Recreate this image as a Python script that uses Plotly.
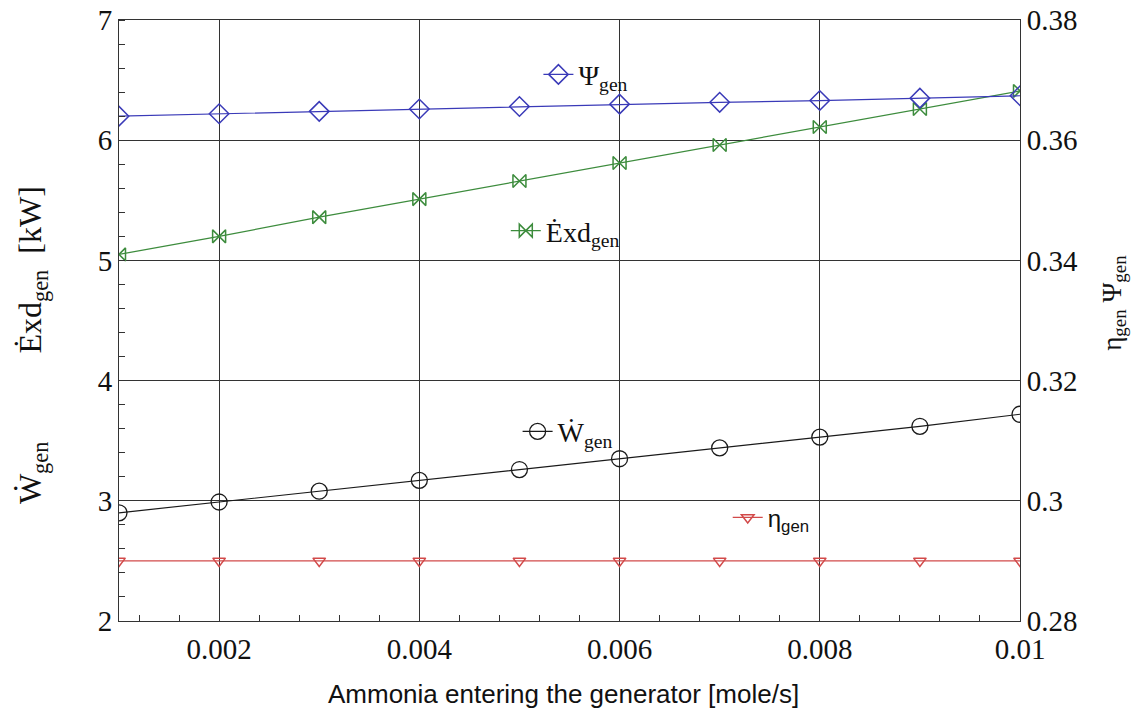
import plotly.graph_objects as go

# ---- data ----
x_vals = [0.001, 0.002, 0.003, 0.004, 0.005, 0.006, 0.007, 0.008, 0.009, 0.010]
psi_gen = [0.3640, 0.3644, 0.3648, 0.3652, 0.3656, 0.3660, 0.3663, 0.3666, 0.3670, 0.3674]
exd_gen = [5.05, 5.20, 5.36, 5.51, 5.66, 5.81, 5.96, 6.11, 6.26, 6.41]
w_gen = [2.90, 2.99, 3.08, 3.17, 3.26, 3.35, 3.44, 3.53, 3.62, 3.72]
eta_gen = [0.290, 0.290, 0.290, 0.290, 0.290, 0.290, 0.290, 0.290, 0.290, 0.290]

x_tick_vals = [0.002, 0.004, 0.006, 0.008, 0.010]
x_tick_text = ["0.002", "0.004", "0.006", "0.008", "0.01"]
y_tick_vals = [2, 3, 4, 5, 6, 7]
y_tick_text = ["2", "3", "4", "5", "6", "7"]
y2_tick_vals = [0.28, 0.30, 0.32, 0.34, 0.36, 0.38]
y2_tick_text = ["0.28", "0.3", "0.32", "0.34", "0.36", "0.38"]

SERIF = "Liberation Serif"
SANS = "Liberation Sans"

BLUE = "#3a3ab8"
GREEN = "#3d8c3d"
BLACK = "#1a1a1a"
RED = "#d24a4a"
AXIS = "#333333"
NB = "\u00a0"

fig = go.Figure()

fig.add_trace(go.Scatter(
    x=x_vals, y=psi_gen, yaxis="y2", mode="lines+markers",
    name="Ψ<sub>gen</sub>", legend="legend",
    line=dict(color=BLUE, width=1.2),
    marker=dict(symbol="diamond-open", size=15, color=BLUE, line=dict(width=1.5)),
))
fig.add_trace(go.Scatter(
    x=x_vals, y=exd_gen, yaxis="y", mode="lines+markers",
    name="E\u0307xd<sub>gen</sub>", legend="legend2",
    line=dict(color=GREEN, width=1.2),
    marker=dict(symbol="bowtie-open", size=13, color=GREEN, line=dict(width=1.5)),
))
fig.add_trace(go.Scatter(
    x=x_vals, y=w_gen, yaxis="y", mode="lines+markers",
    name="W\u0307<sub>gen</sub>", legend="legend3",
    line=dict(color=BLACK, width=1.2),
    marker=dict(symbol="circle-open", size=16, color=BLACK, line=dict(width=1.3)),
))
fig.add_trace(go.Scatter(
    x=x_vals, y=eta_gen, yaxis="y2", mode="lines+markers",
    name="η<sub>gen</sub>", legend="legend4",
    line=dict(color=RED, width=1.2),
    marker=dict(symbol="triangle-down-open", size=11, color=RED, line=dict(width=1.5)),
))

legend_common = dict(bgcolor="rgba(0,0,0,0)", borderwidth=0, xanchor="left",
                     yanchor="middle", itemclick=False, itemdoubleclick=False)

fig.update_layout(
    template="none",
    width=1134, height=700,
    margin=dict(l=111, r=122, t=12, b=87, pad=0),
    paper_bgcolor="white", plot_bgcolor="white",
    showlegend=True,
    font=dict(family=SERIF, size=29, color="#111"),
    xaxis=dict(
        range=[0.001, 0.010], tickvals=x_tick_vals, ticktext=x_tick_text,
        automargin=False, ticklabeloverflow="allow",
        showgrid=True, gridcolor=AXIS, gridwidth=1,
        showline=True, linecolor=AXIS, linewidth=1, mirror=True,
        ticks="", zeroline=False, ticklabelstandoff=2,
        tickfont=dict(family=SERIF, size=29, color="#111"),
        minor=dict(dtick=0.0004, tick0=0, ticks="inside", ticklen=6,
                   tickcolor=AXIS, showgrid=False),
    ),
    yaxis=dict(
        range=[2, 7], tickvals=y_tick_vals, ticktext=y_tick_text,
        automargin=False, ticklabeloverflow="allow",
        showgrid=True, gridcolor=AXIS, gridwidth=1,
        showline=True, linecolor=AXIS, linewidth=1,
        ticks="", zeroline=False, ticklabelstandoff=0,
        tickfont=dict(family=SERIF, size=29, color="#111"),
        minor=dict(dtick=0.2, tick0=0, ticks="inside", ticklen=6,
                   tickcolor=AXIS, showgrid=False),
    ),
    yaxis2=dict(
        range=[0.28, 0.38], tickvals=y2_tick_vals, ticktext=y2_tick_text,
        automargin=False, ticklabeloverflow="allow",
        overlaying="y", side="right", showgrid=False,
        showline=True, linecolor=AXIS, linewidth=1,
        ticks="", zeroline=False, ticklabelstandoff=0,
        tickfont=dict(family=SERIF, size=29, color="#111"),
    ),
    legend=dict(x=0.4655, y=0.909, font=dict(family=SERIF, size=28, color="#111"), **legend_common),
    legend2=dict(x=0.4293, y=0.649, font=dict(family=SERIF, size=28, color="#111"), **legend_common),
    legend3=dict(x=0.4424, y=0.315, font=dict(family=SERIF, size=28, color="#111"), **legend_common),
    legend4=dict(x=0.6756, y=0.1717, font=dict(family=SANS, size=24, color="#111"), **legend_common),
    annotations=[
        dict(text="W\u0307<sub>gen</sub>" + NB * 11 + "E\u0307xd<sub>gen</sub>" + NB * 2 + "[kW]",
             xref="paper", yref="paper",
             x=-0.0966, y=0.459, textangle=-90, showarrow=False,
             font=dict(family=SERIF, size=32, color="#111"), xanchor="center", yanchor="middle"),
        dict(text="η<sub>gen</sub>" + NB + "Ψ<sub>gen</sub>", xref="paper", yref="paper",
             x=1.104, y=0.529, textangle=-90, showarrow=False,
             font=dict(family=SERIF, size=27, color="#111"), xanchor="center", yanchor="middle"),
        dict(text="Ammonia entering the generator [mole/s]", xref="paper", yref="paper",
             x=0.493, y=-0.1215, showarrow=False,
             font=dict(family=SANS, size=26, color="#111"), xanchor="center", yanchor="middle"),
    ],
)

fig.write_html("out.html")
